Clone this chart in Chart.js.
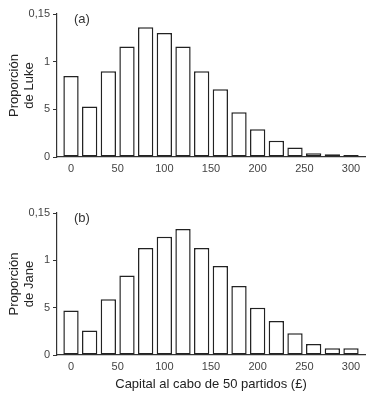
<!DOCTYPE html>
<html>
<head>
<meta charset="utf-8">
<script src="https://cdn.jsdelivr.net/npm/chart.js@4"></script>
<style>
  body { margin: 0; background: #fff; }
  canvas { position: absolute; left: 0; }
</style>
</head>
<body>
<canvas id="chartLuke" width="377" height="198" style="top:0"></canvas>
<canvas id="chartJane" width="377" height="202" style="top:198px"></canvas>
<script>
// capital after 50 games, one bar every 20
const capital = [0, 20, 40, 60, 80, 100, 120, 140, 160, 180, 200, 220, 240, 260, 280, 300];
const luke = [0.085, 0.053, 0.090, 0.116, 0.136, 0.130, 0.116, 0.090, 0.071, 0.047, 0.029, 0.017, 0.010, 0.004, 0.003, 0.002];
const jane = [0.047, 0.026, 0.059, 0.084, 0.113, 0.125, 0.133, 0.113, 0.094, 0.073, 0.050, 0.036, 0.023, 0.0115, 0.007, 0.007];

const xTicks = [0, 50, 100, 150, 200, 250, 300];
const yTicks = [0, 0.05, 0.1, 0.15];
const yTickLabels = ['0', '5', '1', '0,15'];

const ink = '#333';
const fontFam = '"Liberation Sans", Arial, sans-serif';

// "(a)" / "(b)" tag inside the plot
const panelTag = {
  id: 'panelTag',
  afterDraw(chart, args, opts) {
    const ctx = chart.ctx;
    ctx.save();
    ctx.font = '13px ' + fontFam;
    ctx.fillStyle = ink;
    ctx.textBaseline = 'middle';
    ctx.fillText(opts.text, chart.chartArea.left + 17, chart.chartArea.top + 5);
    ctx.restore();
  }
};

function makeChart(id, values, yTitle, tag, xTitle, xHeight, topPad) {
  const ctx = document.getElementById(id);
  return new Chart(ctx, {
    type: 'bar',
    data: {
      datasets: [{
        data: capital.map((c, i) => ({ x: c, y: values[i] })),
        backgroundColor: '#fff',
        borderColor: '#222',
        borderWidth: 1.5,
        borderSkipped: false,
        barPercentage: 0.82,
        categoryPercentage: 1
      }]
    },
    options: {
      responsive: false,
      animation: false,
      layout: { padding: { top: topPad, right: 12, left: 0, bottom: 0 } },
      plugins: {
        legend: { display: false },
        tooltip: { enabled: false },
        panelTag: { text: tag }
      },
      scales: {
        x: {
          type: 'linear',
          offset: false,
          min: -15,
          max: 315,
          afterBuildTicks: axis => { axis.ticks = xTicks.map(v => ({ value: v })); },
          afterFit: axis => { axis.height = xHeight; },
          grid: { display: false, drawTicks: false },
          border: { display: true, color: ink, width: 1.2 },
          ticks: { color: '#444', padding: 5, font: { family: fontFam, size: 11 } },
          title: {
            display: !!xTitle,
            text: xTitle,
            color: '#222',
            padding: { top: 0, bottom: 8 },
            font: { family: fontFam, size: 13 }
          }
        },
        y: {
          min: 0,
          max: 0.15,
          afterBuildTicks: axis => { axis.ticks = yTicks.map(v => ({ value: v })); },
          afterFit: axis => { axis.width = 57; },
          grid: { display: true, drawOnChartArea: false, drawTicks: true, tickLength: 4, color: ink },
          border: { display: true, color: ink, width: 1.2 },
          ticks: {
            color: '#444',
            padding: 3,
            font: { family: fontFam, size: 11 },
            callback: (v, i) => yTickLabels[i]
          },
          title: {
            display: true,
            text: yTitle,
            color: '#222',
            padding: { top: 7, bottom: 0 },
            font: { family: fontFam, size: 13, lineHeight: 1.15 }
          }
        }
      }
    },
    plugins: [panelTag]
  });
}

makeChart('chartLuke', luke, ['Proporción', 'de Luke'], '(a)', '', 41, 14);
makeChart('chartJane', jane, ['Proporción', 'de Jane'], '(b)', 'Capital al cabo de 50 partidos (£)', 45, 15);
</script>
</body>
</html>
